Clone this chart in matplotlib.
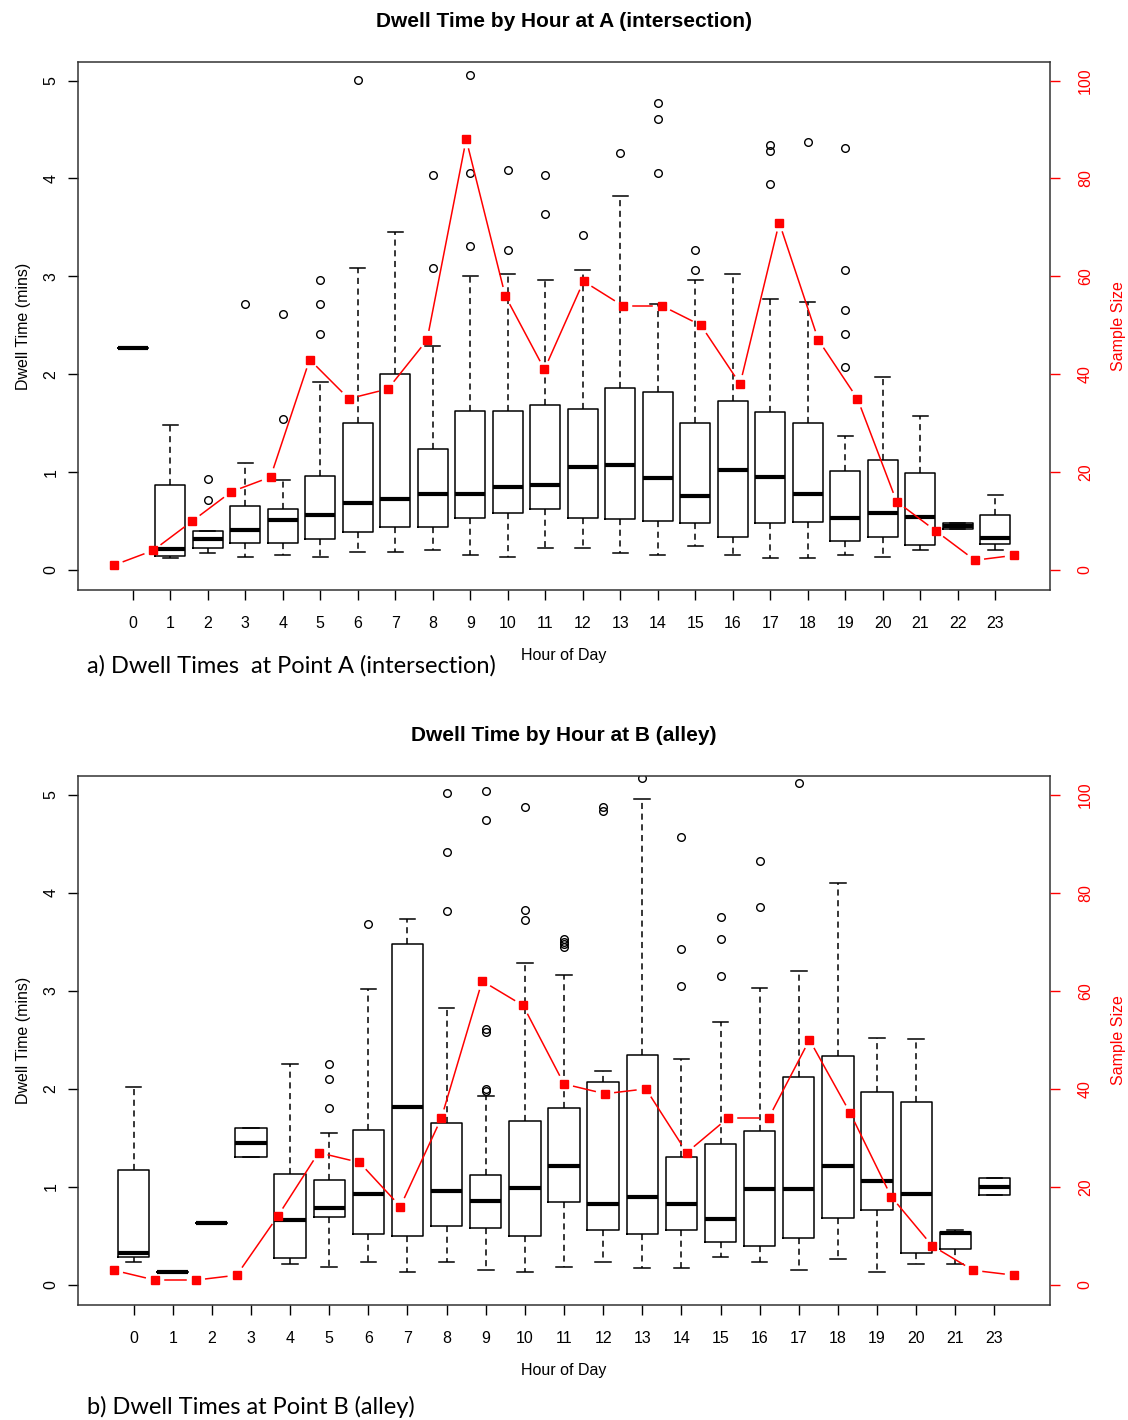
import matplotlib
matplotlib.use('Agg')
import matplotlib.pyplot as plt
import numpy as np

plt.rcParams['font.family'] = 'Liberation Sans'

# panel A: hours 0..23
hours_a = ['0', '1', '2', '3', '4', '5', '6', '7', '8', '9', '10', '11',
           '12', '13', '14', '15', '16', '17', '18', '19', '20', '21', '22', '23']
lo_a = [2.27, 0.12, 0.17, 0.13, 0.15, 0.13, 0.18, 0.18, 0.20, 0.15, 0.13, 0.22,
        0.22, 0.17, 0.15, 0.25, 0.15, 0.12, 0.12, 0.15, 0.13, 0.20, 0.42, 0.20]
q1_a = [2.27, 0.14, 0.23, 0.28, 0.28, 0.32, 0.39, 0.44, 0.44, 0.53, 0.58, 0.62,
        0.53, 0.52, 0.50, 0.48, 0.34, 0.48, 0.49, 0.30, 0.34, 0.26, 0.42, 0.27]
med_a = [2.27, 0.21, 0.32, 0.41, 0.51, 0.56, 0.68, 0.73, 0.78, 0.78, 0.85, 0.87,
         1.05, 1.07, 0.94, 0.76, 1.02, 0.95, 0.78, 0.53, 0.58, 0.54, 0.45, 0.33]
q3_a = [2.27, 0.87, 0.40, 0.65, 0.62, 0.96, 1.50, 2.00, 1.24, 1.62, 1.62, 1.69,
        1.65, 1.86, 1.82, 1.50, 1.73, 1.61, 1.50, 1.01, 1.12, 0.99, 0.48, 0.56]
hi_a = [2.27, 1.48, 0.40, 1.09, 0.92, 1.92, 3.09, 3.45, 2.29, 3.00, 3.02, 2.96,
        3.06, 3.82, 2.72, 2.96, 3.02, 2.77, 2.74, 1.37, 1.97, 1.57, 0.48, 0.77]
out_a = [[], [], [0.93, 0.72], [2.72], [2.62, 1.54], [2.96, 2.72, 2.41], [5.01], [],
         [4.04, 3.09], [5.06, 4.06, 3.31], [4.09, 3.27], [4.04, 3.64], [3.42], [4.26],
         [4.77, 4.61, 4.06], [3.27, 3.06], [], [4.34, 4.28, 3.94], [4.37],
         [4.31, 3.06, 2.66, 2.41, 2.07], [], [], [], []]
n_a = [1, 4, 10, 16, 19, 43, 35, 37, 47, 88, 56, 41, 59, 54, 54, 50, 38, 71, 47, 35, 14, 8, 2, 3]

# panel B: no data for hour 22
hours_b = ['0', '1', '2', '3', '4', '5', '6', '7', '8', '9', '10', '11',
           '12', '13', '14', '15', '16', '17', '18', '19', '20', '21', '23']
lo_b = [0.23, 0.13, 0.63, 1.31, 0.21, 0.18, 0.23, 0.13, 0.23, 0.15, 0.13, 0.18,
        0.23, 0.17, 0.17, 0.29, 0.23, 0.15, 0.27, 0.13, 0.21, 0.21, 0.92]
q1_b = [0.29, 0.13, 0.63, 1.31, 0.28, 0.69, 0.52, 0.50, 0.60, 0.58, 0.50, 0.85,
        0.56, 0.52, 0.56, 0.44, 0.40, 0.48, 0.68, 0.76, 0.33, 0.37, 0.92]
med_b = [0.33, 0.13, 0.63, 1.45, 0.66, 0.78, 0.93, 1.82, 0.96, 0.86, 0.99, 1.21,
         0.83, 0.90, 0.83, 0.67, 0.98, 0.98, 1.21, 1.06, 0.93, 0.53, 1.00]
q3_b = [1.17, 0.13, 0.63, 1.60, 1.13, 1.07, 1.58, 3.48, 1.65, 1.12, 1.67, 1.80,
        2.07, 2.35, 1.30, 1.44, 1.57, 2.12, 2.34, 1.97, 1.87, 0.54, 1.09]
hi_b = [2.02, 0.13, 0.63, 1.60, 2.25, 1.55, 3.02, 3.73, 2.82, 1.93, 3.28, 3.16,
        2.18, 4.96, 2.30, 2.68, 3.03, 3.20, 4.10, 2.52, 2.51, 0.56, 1.09]
out_b = [[], [], [], [], [], [2.25, 2.10, 1.80], [3.68], [], [5.02, 4.42, 3.81],
         [5.04, 4.74, 2.61, 2.58, 2.00, 1.98], [4.87, 3.82, 3.72], [3.53, 3.50, 3.48, 3.45],
         [4.87, 4.83], [5.17], [4.57, 3.43, 3.05], [3.75, 3.53, 3.15], [4.32, 3.85], [5.12],
         [], [], [], [], []]
n_b = [3, 1, 1, 2, 14, 27, 25, 16, 34, 62, 57, 41, 39, 40, 27, 34, 34, 50, 35, 18, 8, 3, 2]


def line_with_gaps(ax, xs, ys, gap=10):
    # R type="b": segments stop short of the points
    pts = ax.transData.transform(np.column_stack([xs, ys]))
    inv = ax.transData.inverted()
    for i in range(len(pts) - 1):
        p, q = pts[i], pts[i + 1]
        d = q - p
        L = np.hypot(d[0], d[1])
        if L <= 2 * gap:
            continue
        u = d / L
        seg = inv.transform(np.array([p + u * gap, q - u * gap]))
        ax.plot(seg[:, 0], seg[:, 1], color='red', linewidth=1.1)
    ax.plot(xs, ys, linestyle='none', marker='s', markersize=6,
            markerfacecolor='red', markeredgecolor='red')


def panel(rect, title, caption, labels, lo, q1, med, q3, hi, out, n, cap_y):
    ax = fig.add_axes(rect)
    stats = []
    for i in range(len(labels)):
        stats.append(dict(whislo=lo[i], q1=q1[i], med=med[i], q3=q3[i],
                          whishi=hi[i], fliers=out[i]))
    k = len(labels)
    pos = list(range(1, k + 1))
    ax.bxp(stats, positions=pos, widths=0.8, showfliers=True, patch_artist=False,
           boxprops=dict(color='black', linewidth=1.1),
           medianprops=dict(color='black', linewidth=3, solid_capstyle='butt'),
           whiskerprops=dict(color='black', linewidth=1.1, linestyle=(0, (4, 3))),
           capprops=dict(color='black', linewidth=1.1),
           flierprops=dict(marker='o', markerfacecolor='none', markeredgecolor='black',
                           markersize=5.5, markeredgewidth=1.0))
    pad = 0.04 * k
    ax.set_xlim(0.5 - pad, k + 0.5 + pad)
    ax.set_ylim(-0.204, 5.19)
    ax.set_xticks(pos)
    ax.set_xticklabels(labels, fontsize=11.5)
    ax.set_yticks([0, 1, 2, 3, 4, 5])
    ax.set_yticklabels(['0', '1', '2', '3', '4', '5'], rotation=90, va='center', fontsize=11.5)
    ax.tick_params(axis='x', length=7, width=1, pad=12)
    ax.tick_params(axis='y', length=7, width=1, pad=7)
    for s in ax.spines.values():
        s.set_linewidth(1.1)
        s.set_color('#333333')
    ax.set_xlabel('Hour of Day', fontsize=11.5, labelpad=12)
    ax.set_ylabel('Dwell Time (mins)', fontsize=11.5, labelpad=9)
    ax.set_title(title, fontsize=15, fontweight='bold', pad=25)

    # sample size on its own axes
    ax2 = fig.add_axes(rect, frameon=False)
    xs = list(range(len(n)))
    p2 = 0.04 * (len(n) - 1)
    ax2.set_xlim(-p2, len(n) - 1 + p2)
    ax2.set_ylim(-4.08, 103.8)
    line_with_gaps(ax2, xs, n)
    ax2.set_xticks([])
    ax2.yaxis.tick_right()
    ax2.yaxis.set_label_position('right')
    ax2.spines['right'].set_visible(True)
    ax2.spines['right'].set_color('red')
    ax2.spines['right'].set_bounds(0, 100)
    ax2.set_yticks([0, 20, 40, 60, 80, 100])
    ax2.set_yticklabels(['0', '20', '40', '60', '80', '100'], rotation=90, va='center',
                        color='red', fontsize=11.5)
    ax2.tick_params(axis='y', colors='red', length=7, width=1, pad=13)
    ax2.set_ylabel('Sample Size', color='red', fontsize=11.5, labelpad=13)

    fig.text(87 / 1128, cap_y, caption, fontsize=17, family='Lato', va='center', ha='left')
    return ax


fig = plt.figure(figsize=(11.28, 14.2), dpi=100)
W, H = 1128.0, 1420.0
panel([78 / W, 1 - 590 / H, 972 / W, 528 / H], 'Dwell Time by Hour at A (intersection)',
      'a) Dwell Times  at Point A (intersection)',
      hours_a, lo_a, q1_a, med_a, q3_a, hi_a, out_a, n_a, 1 - 666 / H)
panel([78 / W, 1 - 1305 / H, 972 / W, 529 / H], 'Dwell Time by Hour at B (alley)',
      'b) Dwell Times at Point B (alley)',
      hours_b, lo_b, q1_b, med_b, q3_b, hi_b, out_b, n_b, 1 - 1407 / H)

fig.savefig('out.png', dpi=100)
